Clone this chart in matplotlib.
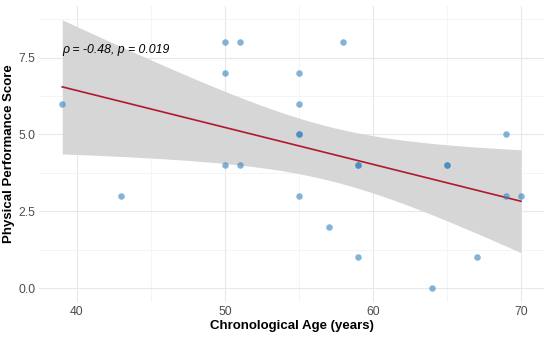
import numpy as np
import matplotlib
matplotlib.use("Agg")
import matplotlib.pyplot as plt

age = [39, 43, 50, 51, 50, 50, 51, 55, 55, 55, 55, 55, 58, 59, 59, 57, 59, 64, 65, 65, 67, 69, 70, 69]
score = [6, 3, 8, 8, 7, 4, 4, 7, 6, 5, 5, 3, 8, 4, 4, 2, 1, 0, 4, 4, 1, 3, 3, 5]
xticks = [40, 50, 60, 70]
yticks = [0.0, 2.5, 5.0, 7.5]
annot = "ρ = -0.48, p = 0.019"
T975 = 2.074  # t quantile, df = n - 2

plt.rcParams['font.family'] = ['Liberation Sans', 'DejaVu Sans']

x = np.array(age, float)
y = np.array(score, float)
n = len(x)
b1, b0 = np.polyfit(x, y, 1)
xs = np.linspace(x.min(), x.max(), 80)
ys = b0 + b1 * xs
res = y - (b0 + b1 * x)
s = np.sqrt(np.sum(res ** 2) / (n - 2))
se = s * np.sqrt(1 / n + (xs - x.mean()) ** 2 / np.sum((x - x.mean()) ** 2))
lo, hi = ys - T975 * se, ys + T975 * se

fig = plt.figure(figsize=(5.5, 3.39), dpi=100)
ax = fig.add_axes([0.0715, 0.1106, 0.9175, 0.8704])

ax.fill_between(xs, lo, hi, color='#D6D6D6', lw=0, zorder=2)
ax.plot(xs, ys, color='#B2182B', lw=1.2, zorder=3)
ax.scatter(x, y, s=22, color='#3182BD', alpha=0.6, lw=0, zorder=4)

ax.text(x.min(), 7.75, annot, fontsize=8.8, style='italic', ha='left', va='center', zorder=5)

xr = x.max() - x.min()
ax.set_xlim(x.min() - 0.05 * xr, x.max() + 0.05 * xr)
ymin = min(y.min(), lo.min()); ymax = max(y.max(), hi.max())
yr = ymax - ymin
ax.set_ylim(ymin - 0.05 * yr, ymax + 0.05 * yr)

ax.set_xticks(xticks)
ax.set_xticklabels([str(t) for t in xticks])
ax.set_yticks(yticks)
ax.set_yticklabels([f"{t:.1f}" for t in yticks])
ax.set_xticks([45, 55, 65], minor=True)
ax.set_yticks([1.25, 3.75, 6.25, 8.75], minor=True)
ax.grid(True, which='major', color='#E8E8E8', lw=0.8, zorder=0)
ax.grid(True, which='minor', color='#F2F2F2', lw=0.6, zorder=0)
ax.set_axisbelow(True)
for sp in ax.spines.values():
    sp.set_visible(False)
ax.tick_params(which='both', length=0, labelsize=8.8, labelcolor='#4D4D4D', pad=3)

ax.set_xlabel("Chronological Age (years)", fontsize=9.5, fontweight='bold', labelpad=2)
ax.set_ylabel("Physical Performance Score", fontsize=9.5, fontweight='bold', labelpad=2)

fig.savefig("out.png", dpi=100)
